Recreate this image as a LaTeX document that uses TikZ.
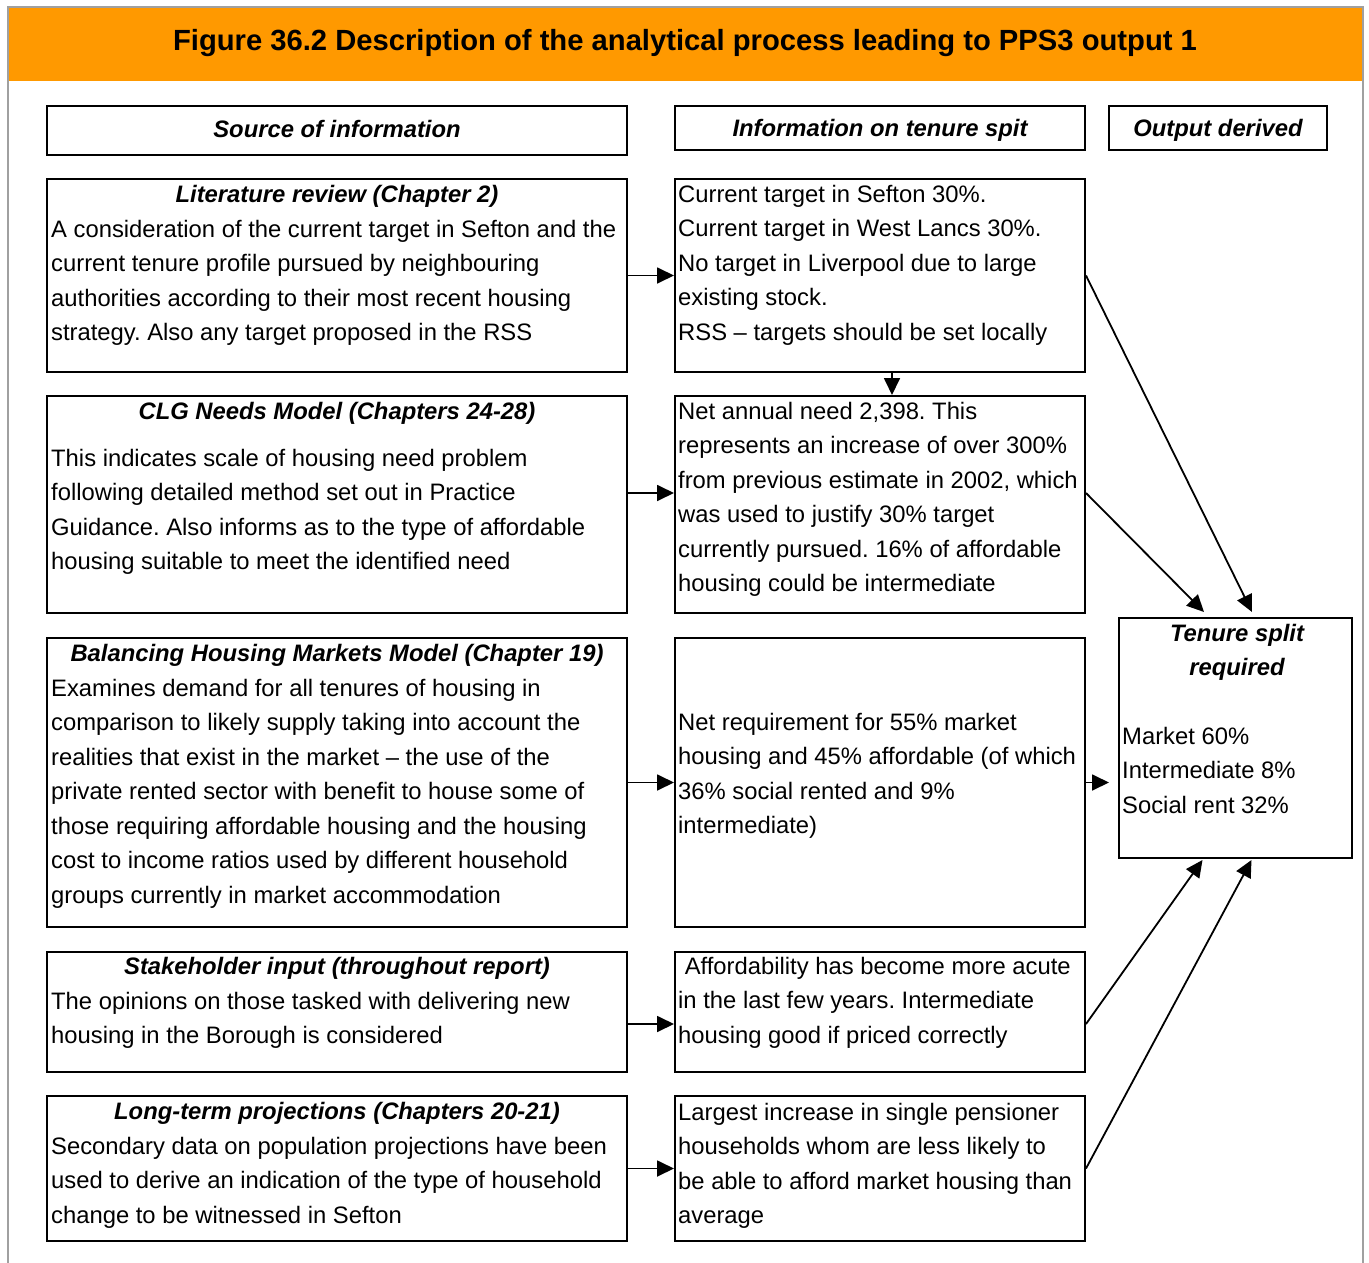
\documentclass[tikz,border=0pt]{standalone}
\usepackage{fontspec}
\setmainfont{Liberation Sans}
\frenchspacing
\usetikzlibrary{arrows.meta,positioning}
\definecolor{fig_orange}{RGB}{255,153,0}
\definecolor{frame_grey}{RGB}{160,160,160}

\begin{document}
\begin{tikzpicture}[x=1pt, y=1pt,
    box/.style={draw, line width=2pt, anchor=north west, inner sep=0pt},
    head/.style={font=\fontsize{23.8}{34.5}\selectfont\bfseries\itshape, inner sep=0pt, align=center},
    body/.style={font=\fontsize{23.8}{34.5}\selectfont, inner sep=0pt, align=left},
    arr/.style={line width=1.8pt, -{Triangle[length=17pt,width=16pt]}}]
  \useasboundingbox (0,0) rectangle (1369,-1263);
  % frame and title band
  \fill[fig_orange] (8,-8) rectangle (1363,-81);
  \draw[frame_grey, line width=2pt] (8,-1263) -- (8,-7) -- (1363,-7) -- (1363,-1263);
  \node[font=\fontsize{29.2}{35}\selectfont\bfseries, inner sep=0pt] (title) at (685,-43)
    {Figure 36.2 Description of the analytical process leading to PPS3 output 1};

  % column headers
  \node[box, head, text height=17.4pt, text depth=3pt, minimum width=580pt, minimum height=49pt] (srchead) at (46,-105) {Source of information};
  \node[box, head, text height=17.4pt, text depth=0pt, minimum width=410pt, minimum height=44pt] (infohead) at (674,-105) {Information on tenure spit};
  \node[box, head, text height=17.4pt, text depth=0pt, minimum width=218pt, minimum height=44pt] (outhead) at (1108,-105) {Output derived};

  % row 1
  \node[box, minimum width=580pt, minimum height=193pt] (lit) at (46,-178) {};
  \node[head, below=7pt of lit.north] (lithead) {Literature review (Chapter 2)};
  \node[body, below right=42pt and 5pt of lit.north west] (littxt)
    {A consideration of the current target in Sefton and the\\
     current tenure profile pursued by neighbouring\\
     authorities according to their most recent housing\\
     strategy. Also any target proposed in the RSS};
  \node[box, minimum width=410pt, minimum height=193pt] (tgt) at (674,-178) {};
  \node[body, below right=7pt and 4pt of tgt.north west] (tgttxt)
    {Current target in Sefton 30\%.\\
     Current target in West Lancs 30\%.\\
     No target in Liverpool due to large\\
     existing stock.\\
     RSS – targets should be set locally};

  % row 2
  \node[box, minimum width=580pt, minimum height=217pt] (clg) at (46,-395) {};
  \node[head, below=7pt of clg.north] (clghead) {CLG Needs Model (Chapters 24-28)};
  \node[body, below right=54pt and 5pt of clg.north west] (clgtxt)
    {This indicates scale of housing need problem\\
     following detailed method set out in Practice\\
     Guidance. Also informs as to the type of affordable\\
     housing suitable to meet the identified need};
  \node[box, minimum width=410pt, minimum height=217pt] (need) at (674,-395) {};
  \node[body, below right=7pt and 4pt of need.north west] (needtxt)
    {Net annual need 2,398. This\\
     represents an increase of over 300\%\\
     from previous estimate in 2002, which\\
     was used to justify 30\% target\\
     currently pursued. 16\% of affordable\\
     housing could be intermediate};

  % row 3
  \node[box, minimum width=580pt, minimum height=289pt] (bhm) at (46,-637) {};
  \node[head, below=7pt of bhm.north] (bhmhead) {Balancing Housing Markets Model (Chapter 19)};
  \node[body, below right=42pt and 5pt of bhm.north west] (bhmtxt)
    {Examines demand for all tenures of housing in\\
     comparison to likely supply taking into account the\\
     realities that exist in the market – the use of the\\
     private rented sector with benefit to house some of\\
     those requiring affordable housing and the housing\\
     cost to income ratios used by different household\\
     groups currently in market accommodation};
  \node[box, minimum width=410pt, minimum height=289pt] (req) at (674,-637) {};
  \node[body, below right=76pt and 4pt of req.north west] (reqtxt)
    {Net requirement for 55\% market\\
     housing and 45\% affordable (of which\\
     36\% social rented and 9\%\\
     intermediate)};

  % row 4
  \node[box, minimum width=580pt, minimum height=120pt] (stake) at (46,-951) {};
  \node[head, below=6pt of stake.north] (stakehead) {Stakeholder input (throughout report)};
  \node[body, below right=41pt and 5pt of stake.north west] (staketxt)
    {The opinions on those tasked with delivering new\\
     housing in the Borough is considered};
  \node[box, minimum width=410pt, minimum height=120pt] (afford) at (674,-951) {};
  \node[body, below right=6pt and 4pt of afford.north west] (affordtxt)
    {\hspace*{6.6pt}Affordability has become more acute\\
     in the last few years. Intermediate\\
     housing good if priced correctly};

  % row 5
  \node[box, minimum width=580pt, minimum height=145pt] (proj) at (46,-1095) {};
  \node[head, below=7pt of proj.north] (projhead) {Long-term projections (Chapters 20-21)};
  \node[body, below right=42pt and 5pt of proj.north west] (projtxt)
    {Secondary data on population projections have been\\
     used to derive an indication of the type of household\\
     change to be witnessed in Sefton};
  \node[box, minimum width=410pt, minimum height=145pt] (pens) at (674,-1095) {};
  \node[body, below right=8pt and 4pt of pens.north west] (penstxt)
    {Largest increase in single pensioner\\
     households whom are less likely to\\
     be able to afford market housing than\\
     average};

  % output
  \node[box, minimum width=233pt, minimum height=240pt] (split) at (1118,-617) {};
  \node[head, below=7pt of split.north, xshift=1.5pt] (splithead) {Tenure split\\required};
  \node[body, below right=110pt and 4pt of split.north west] (splittxt)
    {Market 60\%\\
     Intermediate 8\%\\
     Social rent 32\%};

  % arrows
  \draw[arr] (lit.east) -- (tgt.west);
  \draw[arr] ([yshift=11.5pt]clg.east) -- ([yshift=11.5pt]need.west);
  \draw[arr] (bhm.east) -- (req.west);
  \draw[arr] ([yshift=-12pt]stake.east) -- ([yshift=-12pt]afford.west);
  \draw[arr] (proj.east) -- (pens.west);
  \draw[arr] ([xshift=12pt]tgt.south) -- ([xshift=12pt]need.north);
  \draw[arr, shorten >=9pt] (req.east) -- (req.east -| split.west);
  \draw[arr] (tgt.east) -- ([xshift=16.5pt,yshift=5pt]split.north);
  \draw[arr] ([yshift=11.5pt]need.east) -- ([xshift=-31.5pt,yshift=5pt]split.north);
  \draw[arr] ([yshift=-12pt]afford.east) -- ([xshift=-33pt,yshift=-1pt]split.south);
  \draw[arr] (pens.east) -- ([xshift=16pt,yshift=-1pt]split.south);
\end{tikzpicture}
\end{document}
